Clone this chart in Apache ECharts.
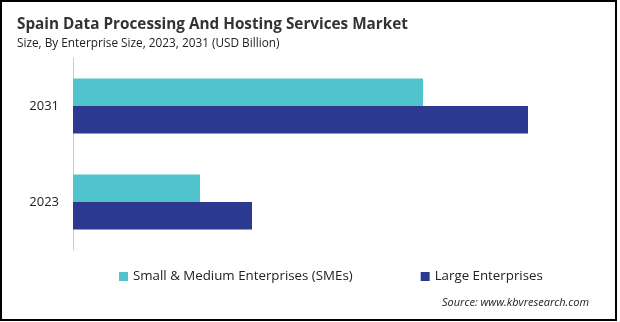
<!DOCTYPE html>
<html>
<head>
<meta charset="utf-8">
<script src="https://cdn.jsdelivr.net/npm/echarts@6/dist/echarts.min.js"></script>
<style>
  html, body { margin: 0; padding: 0; background: #fff; }
  #chart { width: 620px; height: 322px; }
</style>
</head>
<body>
<div id="chart"></div>
<script>
// Market size by enterprise size (USD Billion)
const years = ['2023', '2031'];
const smeValues = [1.27, 3.50];
const largeValues = [1.79, 4.55];
const seriesNames = ['Small & Medium Enterprises (SMEs)', 'Large Enterprises'];

const smeColor = '#50C3CD';
const largeColor = '#2B3990';
const fontFamily = '"Open Sans", "Noto Sans", sans-serif';

const chart = echarts.init(document.getElementById('chart'), null, { renderer: 'canvas' });

chart.setOption({
  animation: false,
  textStyle: { fontFamily },
  title: {
    text: 'Spain Data Processing And Hosting Services Market',
    subtext: 'Size, By Enterprise Size, 2023, 2031 (USD Billion)',
    left: 12,
    top: 12,
    itemGap: 6,
    textStyle: { fontSize: 15.3, fontWeight: 'bold', color: '#333', fontFamily },
    subtextStyle: { fontSize: 11.8, color: '#222', fontFamily }
  },
  legend: {
    data: seriesNames,
    left: 114,
    top: 265,
    itemWidth: 9,
    itemHeight: 9,
    itemGap: 68,
    icon: 'rect',
    textStyle: { fontSize: 13.3, color: '#222', fontFamily }
  },
  grid: { left: 73, top: 58, width: 500, height: 192 },
  xAxis: {
    type: 'value',
    min: 0,
    max: 5,
    show: false
  },
  yAxis: {
    type: 'category',
    data: years,
    axisLine: { show: true, lineStyle: { color: '#cccccc', width: 1 } },
    axisTick: { show: false },
    axisLabel: { color: '#222', fontSize: 13, margin: 14 }
  },
  // SMEs bar on top, Large Enterprises bar directly beneath it
  series: [
    {
      name: seriesNames[0],
      type: 'bar',
      data: smeValues,
      itemStyle: { color: smeColor },
      barWidth: 27.5,
      barGap: '0%'
    },
    {
      name: seriesNames[1],
      type: 'bar',
      data: largeValues,
      itemStyle: { color: largeColor },
      barWidth: 27.5,
      barGap: '0%'
    }
  ],
  graphic: [
    {
      type: 'rect',
      shape: { x: 1, y: 1, width: 615, height: 319 },
      style: { fill: 'none', stroke: '#000', lineWidth: 2 },
      silent: true
    },
    {
      type: 'text',
      left: 442,
      top: 297,
      style: {
        text: 'Source: www.kbvresearch.com',
        fontSize: 11,
        fontStyle: 'italic',
        fill: '#222',
        fontFamily
      }
    }
  ]
});
</script>
</body>
</html>
